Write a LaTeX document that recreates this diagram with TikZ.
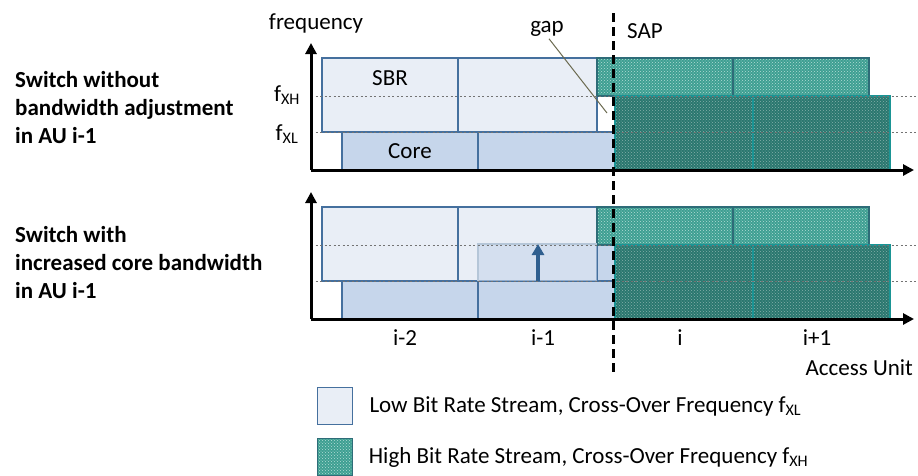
\documentclass[tikz,border=0pt]{standalone}
\usepackage{fontspec}
\setmainfont{Carlito}
\usetikzlibrary{arrows.meta,patterns,positioning}
\definecolor{lowfill}{HTML}{E9EEF6}
\definecolor{corefill}{HTML}{C6D6EB}
\definecolor{boxline}{HTML}{45709E}
\definecolor{tealup}{HTML}{3E9F92}
\definecolor{tealupdot}{HTML}{B4DDD6}
\definecolor{tealdown}{HTML}{2A776F}
\definecolor{tealdowndot}{HTML}{86B0AA}
\definecolor{tealedge}{HTML}{2E6C78}
\definecolor{tealedgeB}{HTML}{1A9494}
\definecolor{arrowblue}{HTML}{2F5F8F}
\definecolor{gapline}{HTML}{6B6A50}
\tikzset{
  lbl/.style={font=\fontsize{23}{28}\selectfont,inner sep=0pt},
  sidelbl/.style={font=\fontsize{23}{28}\selectfont\bfseries,inner sep=0pt,align=left,anchor=west},
  axisline/.style={line width=3pt,-{Triangle[width=11pt,length=11pt]}},
  lowbox/.style={draw=boxline,line width=1.6pt,fill=lowfill},
  corebox/.style={draw=boxline,line width=1.6pt,fill=corefill},
  highup/.style={fill=tealup,postaction={pattern=crosshatch dots,pattern color=tealupdot},postaction={draw=tealedge,line width=1.6pt}},
  highdown/.style={fill=tealdown,postaction={pattern=crosshatch dots,pattern color=tealdowndot},postaction={draw=tealedgeB,line width=1.6pt}},
  freqline/.style={black!55,line width=0.8pt,dash pattern=on 2pt off 2.5pt},
  sapline/.style={line width=3pt,dash pattern=on 9pt off 5pt}
}
\begin{document}
\begin{tikzpicture}[x=1pt,y=-1pt]
  \useasboundingbox (0,0) rectangle (918,475);
  % raised core in AU i-1 (lower panel)
  \fill[corefill] (478,244) rectangle (615,319);
  \foreach \dy in {0,149}{
    \begin{scope}[yshift=-\dy pt]
      \draw[lowbox] (322,58) rectangle (458,132);
      \draw[lowbox] (458,58) rectangle (597,132);
      \draw[corebox] (342,132) rectangle (478,170);
      \draw[corebox] (478,132) rectangle (615,170);
      \path[highup] (597,58) rectangle (733,96);
      \path[highup] (733,58) rectangle (869,96);
      \path[highdown] (615,96) rectangle (753,170);
      \path[highdown] (753,96) rectangle (890,170);
    \end{scope}
  }
  \fill[corefill,fill opacity=0.6] (478,244) rectangle (597,281);
  \draw[boxline!40,line width=1.6pt] (478,281) -- (478,244) -- (597,244);
  \foreach \dy in {0,149}{
    \begin{scope}[yshift=-\dy pt]
      \draw[freqline] (311,96) -- (918,96);
      \draw[freqline] (311,132) -- (918,132);
      \coordinate (orig) at (311,170);
      \draw[axisline] (orig) -- (311,43);
      \draw[axisline] (orig) -- (914,170);
    \end{scope}
  }
  % core bandwidth increase
  \coordinate (coreold) at (538,281);
  \coordinate (corenew) at (538,244);
  \draw[arrowblue,line width=3.5pt,-{Triangle[width=12pt,length=11pt]}] (coreold) -- (corenew);
  % switching point
  \coordinate (saptop) at (613,13);
  \coordinate (sapbot) at (613,372);
  \draw[sapline] (saptop) -- (sapbot);
  \node[lbl] (sap) at (645,31) {SAP};
  \node[lbl] (gap) at (547,29) {gap};
  \coordinate (gapend) at (607,113);
  \draw[gapline,line width=1pt] (gap.south) ++(2,2) -- (gapend);
  \node[lbl] (freq) at (316,23) {frequency};
  \node[lbl] (fxh) at (287,95) {f\textsubscript{XH}};
  \node[lbl] (fxl) at (287,134) {f\textsubscript{XL}};
  \node[lbl] (sbr) at (390,78) {SBR};
  \node[lbl] (core) at (410,151) {Core};
  \node[sidelbl] (swA) at (15,108) {Switch without\\bandwidth adjustment\\in AU i-1};
  \node[sidelbl] (swB) at (15,263) {Switch with\\increased core bandwidth\\in AU i-1};
  \node[lbl] (au2) at (405,338) {i-2};
  \node[lbl] (au1) at (543,338) {i-1};
  \node[lbl] (au0) at (680,338) {i};
  \node[lbl] (aup) at (817,338) {i+1};
  \node[lbl,anchor=east] (auname) at (913,368) {Access Unit};
  % legend
  \node[lowbox,minimum width=35pt,minimum height=37pt,inner sep=0pt] (legLow) at (335,406) {};
  \node[lbl,right=16pt of legLow] (legLowTxt) {Low Bit Rate Stream, Cross-Over Frequency f\textsubscript{XL}};
  \node[highup,minimum width=35pt,minimum height=37pt,inner sep=0pt] (legHigh) at (335,457) {};
  \node[lbl,right=16pt of legHigh] (legHighTxt) {High Bit Rate Stream, Cross-Over Frequency f\textsubscript{XH}};
\end{tikzpicture}
\end{document}
